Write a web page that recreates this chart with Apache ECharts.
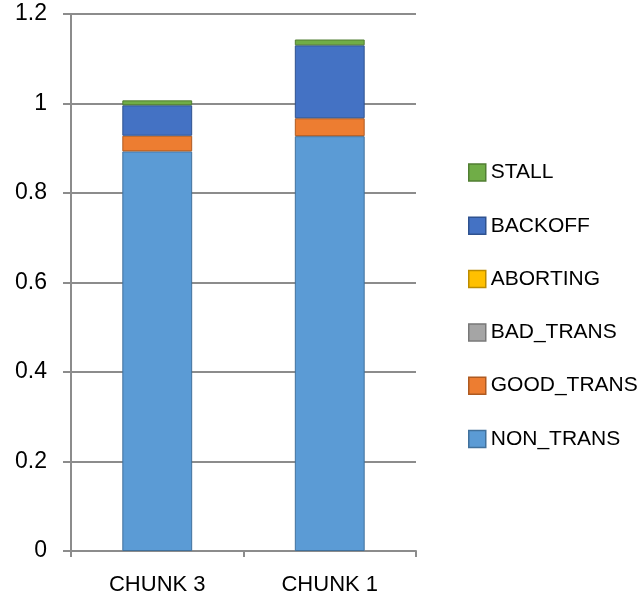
<!DOCTYPE html>
<html>
<head>
<meta charset="utf-8">
<script src="https://cdn.jsdelivr.net/npm/echarts@6/dist/echarts.min.js"></script>
<style>
  html, body { margin: 0; padding: 0; background: #fff; }
  #chart { width: 638px; height: 599px; }
</style>
</head>
<body>
<div id="chart"></div>
<script>
// 分类与各阶段数据
const categories = ['CHUNK 3', 'CHUNK 1'];
const nonTrans = [0.893, 0.927];
const goodTrans = [0.035, 0.040];
const badTrans = [0, 0];
const aborting = [0, 0];
const backoff = [0.068, 0.163];
const stall = [0.011, 0.013];

const yTicks = { min: 0, max: 1.2, interval: 0.2 };

const font = 'Liberation Sans, Arial, sans-serif';
const gridColor = '#8c8c8c';

const colors = {
    NON_TRANS: ['#5B9BD5', '#41719C'],
    GOOD_TRANS: ['#ED7D31', '#AE5A21'],
    BAD_TRANS: ['#A5A5A5', '#787878'],
    ABORTING: ['#FFC000', '#BC8C00'],
    BACKOFF: ['#4472C4', '#2F528F'],
    STALL: ['#70AD47', '#507E32']
};

function makeSeries(name, data) {
    const hasValue = data.some(v => v > 0);
    return {
        name: name,
        type: 'bar',
        stack: 'total',
        barWidth: '40.5%',
        data: data,
        itemStyle: {
            color: colors[name][0],
            borderColor: colors[name][1],
            borderWidth: hasValue ? 1 : 0
        }
    };
}

const series = [
    makeSeries('NON_TRANS', nonTrans),
    makeSeries('GOOD_TRANS', goodTrans),
    makeSeries('BAD_TRANS', badTrans),
    makeSeries('ABORTING', aborting),
    makeSeries('BACKOFF', backoff),
    makeSeries('STALL', stall)
];

// 图例顺序与堆叠顺序相反
const legendData = series.map(s => s.name).reverse().map(name => ({
    name: name,
    itemStyle: {
        color: colors[name][0],
        borderColor: colors[name][1],
        borderWidth: 1.5
    }
}));

const option = {
    animation: false,
    backgroundColor: '#fff',
    textStyle: { fontFamily: font },
    grid: {
        left: 71,
        right: 222,
        top: 14,
        bottom: 48,
        containLabel: false
    },
    legend: {
        orient: 'vertical',
        left: 463,
        top: 157,
        icon: 'rect',
        itemWidth: 17,
        itemHeight: 17,
        itemGap: 32.3,
        data: legendData,
        textStyle: {
            fontFamily: font,
            fontSize: 21,
            lineHeight: 21,
            color: '#000'
        }
    },
    xAxis: {
        type: 'category',
        data: categories,
        axisLine: { lineStyle: { color: gridColor, width: 2 } },
        axisTick: { show: true, length: 6, lineStyle: { color: gridColor, width: 2 } },
        axisLabel: { fontSize: 22, color: '#000', margin: 23 }
    },
    yAxis: {
        type: 'value',
        min: yTicks.min,
        max: yTicks.max,
        interval: yTicks.interval,
        axisLine: { show: true, lineStyle: { color: gridColor, width: 2 } },
        axisTick: { show: true, length: 8, lineStyle: { color: gridColor, width: 2 } },
        splitLine: { show: true, lineStyle: { color: gridColor, width: 2 } },
        axisLabel: { fontSize: 23, color: '#000', margin: 24 }
    },
    series: series
};

const chart = echarts.init(document.getElementById('chart'));
chart.setOption(option);
</script>
</body>
</html>
